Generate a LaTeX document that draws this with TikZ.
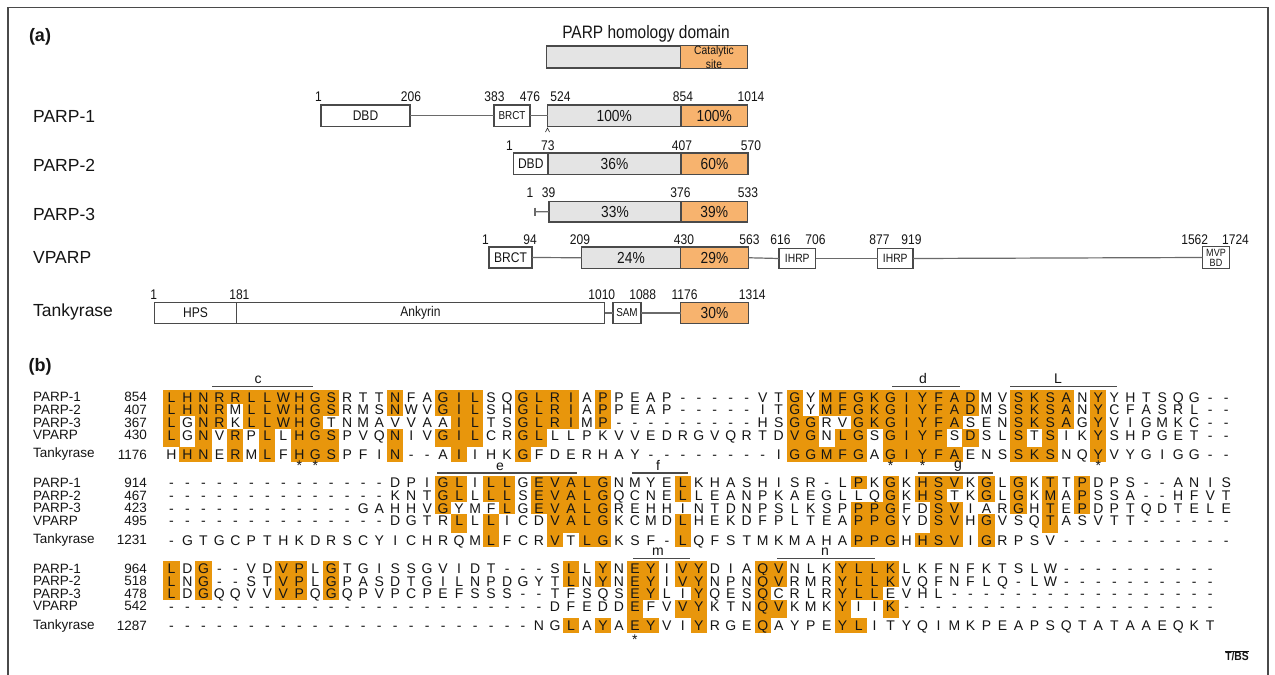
\documentclass[tikz,border=0pt]{standalone}
\usepackage{fontspec}
\setmainfont{Liberation Sans}
\newfontfamily\narrowsans[FakeStretch=0.86]{Liberation Sans}
\definecolor{hlorange}{HTML}{E8960C}
\definecolor{catorange}{HTML}{F7B36E}
\definecolor{domgrey}{HTML}{E4E4E4}
\definecolor{edgegrey}{HTML}{4A4A4A}
\definecolor{linkgrey}{HTML}{6A6A6A}
\definecolor{inkblack}{HTML}{151515}

\newcommand\pctfont{\narrowsans\fontsize{16}{16}\selectfont}
\newcommand\domfont{\narrowsans\fontsize{14}{14}\selectfont}

% ---------- alignment machinery ----------
% A residue in upper case is shaded, a lower-case one is plain.
\newcount\alncol
\def\alnx{171.5}
\def\alnw{15.98}
\newcommand\alnrow[4]{% #1 centre y, #2 cell top, #3 cell bottom, #4 residues
  \def\alny{#1}\def\alntop{#2}\def\alnbot{#3}%
  \alncol=0 \alnscan#4\relax}
\def\alnscan#1{%
  \ifx#1\relax\else
    \alncell#1%
    \advance\alncol by 1
    \expandafter\alnscan
  \fi}
\def\alncell#1{%
  \pgfmathsetmacro\cx{\alnx+\alnw*\the\alncol}%
  \ifnum`#1>64 \ifnum`#1<91
    \fill[hlorange] (\cx-8.05,\alntop) rectangle (\cx+8.05,\alnbot);
  \fi\fi
  \node[resid] at (\cx,\alny+5) {\uppercase{#1}};}

% one block of five sequences; #1 = y of first row
\newcommand\alnblock[6]{%
  \pgfmathsetmacro\ra{#1}%
  \pgfmathsetmacro\rb{#1+12.6}%
  \pgfmathsetmacro\rc{#1+25.2}%
  \pgfmathsetmacro\rd{#1+37.8}%
  \pgfmathsetmacro\re{#1+57.3}%
  \pgfmathsetmacro\ta{#1-7}%
  \pgfmathsetmacro\tb{#1+6.3}%
  \pgfmathsetmacro\tc{#1+18.9}%
  \pgfmathsetmacro\td{#1+31.5}%
  \pgfmathsetmacro\te{#1+50}%
  \pgfmathsetmacro\tf{#1+64.5}%
  \alnrow{\ra}{\ta}{\tb}{#2}%
  \alnrow{\rb}{\tb}{\tc}{#3}%
  \alnrow{\rc}{\tc}{\td}{#4}%
  \alnrow{\rd}{\td}{\te}{#5}%
  \alnrow{\re}{\te}{\tf}{#6}}

\newcommand\alnlabels[6]{% #1 y of first row, then the start numbers
  \node[rowname] at (33,#1) {PARP-1};
  \node[rownum]  at (147,#1) {#2};
  \node[rowname] at (33,#1+12.6) {PARP-2};
  \node[rownum]  at (147,#1+12.6) {#3};
  \node[rowname] at (33,#1+25.2) {PARP-3};
  \node[rownum]  at (147,#1+25.2) {#4};
  \node[rowname] at (33,#1+37.8) {VPARP};
  \node[rownum]  at (147,#1+37.8) {#5};
  \node[rowname] at (33,#1+57.3) {Tankyrase};
  \node[rownum]  at (147,#1+57.3) {#6};}

\tikzset{
  resid/.style={anchor=base, inner sep=0, text=inkblack,
    font=\fontsize{14}{14}\selectfont},
  rowname/.style={anchor=west, inner sep=0, text=inkblack,
    font=\fontsize{13.5}{13.5}\selectfont},
  rownum/.style={anchor=east, inner sep=0, text=inkblack,
    font=\fontsize{13.5}{13.5}\selectfont},
  motifbar/.style={draw=edgegrey, line width=1.2pt},
  motiflabel/.style={anchor=base, inner sep=0, text=inkblack,
    font=\fontsize{14}{14}\selectfont},
  starmark/.style={anchor=base, inner sep=0, text=inkblack,
    font=\fontsize{14}{14}\selectfont},
  dombx/.style={draw=edgegrey, line width=1.1pt, inner sep=0, outer sep=0,
    text=inkblack},
  domlink/.style={draw=linkgrey, line width=1.2pt},
  protein/.style={anchor=west, inner sep=0, text=inkblack,
    font=\fontsize{17.5}{17.5}\selectfont},
  posnum/.style={inner sep=0, text=inkblack, font=\narrowsans\fontsize{14}{14}\selectfont},
  panellabel/.style={inner sep=0, text=inkblack, font=\bfseries\fontsize{18}{18}\selectfont},
}

% box from (x1,y1) to (x2,y2), named #1
\newcommand\dombox[7]{% name, x1, y1, x2, y2, fill, text
  \node[dombx, fill=#6, minimum width={(#4-#2)*1pt}, minimum height={(#5-#3)*1pt}]
    (#1) at ({(#2+#4)/2},{(#3+#5)/2}) {#7};}

\begin{document}
\begin{tikzpicture}[x=1pt, y=-1pt]
\useasboundingbox (0,0) rectangle (1275,675);
\fill[white] (0,0) rectangle (1275,675);
% frame
\draw[edgegrey, line width=1.2pt] (8,675) -- (8,7.5) -- (1268,7.5) -- (1268,675);

% ================= panel (a) =================
\node[panellabel] (panela) at (40,37) {(a)};

% legend
\node[inner sep=0, text=inkblack, font=\narrowsans\fontsize{18}{18}\selectfont] (legendtitle) at (646,33.5) {PARP homology domain};
\dombox{leggrey}{546.5}{46}{680.5}{68}{domgrey}{}
\dombox{legcat}{680.5}{46}{747.5}{68}{catorange}{\narrowsans\fontsize{12}{10.5}\selectfont\shortstack{Catalytic\\site}}

% PARP-1
\node[protein] (nparp1) at (33,116) {PARP-1};
\dombox{dbdA}{321}{105}{410}{126.5}{white}{\domfont DBD}
\dombox{brctA}{494}{105}{530}{126.5}{white}{\narrowsans\fontsize{11.5}{11.5}\selectfont BRCT}
\dombox{homA}{547.5}{105}{681}{126.5}{domgrey}{\pctfont 100\%}
\dombox{catA}{681}{105}{747.5}{126.5}{catorange}{\pctfont 100\%}
\draw[domlink] (dbdA.east) -- (brctA.west);
\draw[domlink] (brctA.east) -- (homA.west);
\coordinate (caretA) at (547.5,128);
\draw[inkblack, line width=0.6pt] ([xshift=-2pt,yshift=-4pt]caretA) -- (caretA) -- ([xshift=2pt,yshift=-4pt]caretA);
\node[posnum] (a1) at (318.5,96.5) {1};
\node[posnum] (a2) at (411,96.5) {206};
\node[posnum] (a3) at (494.5,96.5) {383};
\node[posnum] (a4) at (530,96.5) {476};
\node[posnum] (a5) at (560.5,96.5) {524};
\node[posnum] (a6) at (683,96.5) {854};
\node[posnum] (a7) at (751,96.5) {1014};

% PARP-2
\node[protein] (nparp2) at (33,165.5) {PARP-2};
\dombox{dbdB}{513.5}{153}{548}{174.5}{white}{\domfont DBD}
\dombox{homB}{548}{153}{681}{174.5}{domgrey}{\pctfont 36\%}
\dombox{catB}{681}{153}{748}{174.5}{catorange}{\pctfont 60\%}
\node[posnum] (b1) at (509.5,146) {1};
\node[posnum] (b2) at (547.8,146) {73};
\node[posnum] (b3) at (682,146) {407};
\node[posnum] (b4) at (751,146) {570};

% PARP-3
\node[protein] (nparp3) at (33,214) {PARP-3};
\dombox{homC}{549}{201.5}{681}{222}{domgrey}{\pctfont 33\%}
\dombox{catC}{681}{201.5}{747.5}{222}{catorange}{\pctfont 39\%}
\coordinate (startC) at (535,211.7);
\draw[domlink] (startC) -- (homC.west);
\draw[domlink] ([yshift=4pt]startC) -- ([yshift=-4pt]startC);
\node[posnum] (c1) at (530,192.5) {1};
\node[posnum] (c2) at (548.5,192.5) {39};
\node[posnum] (c3) at (680.5,192.5) {376};
\node[posnum] (c4) at (748,192.5) {533};

% VPARP
\node[protein] (nvparp) at (33,257.5) {VPARP};
\dombox{brctD}{489}{247}{532}{268}{white}{\domfont BRCT}
\dombox{homD}{581.5}{247}{680.5}{268.5}{domgrey}{\pctfont 24\%}
\dombox{catD}{680.5}{247}{748.5}{268.5}{catorange}{\pctfont 29\%}
\dombox{ihrpD}{779}{248.5}{815.5}{268.5}{white}{\narrowsans\fontsize{12}{12}\selectfont IHRP}
\dombox{ihrpE}{877.5}{248.5}{913}{268.5}{white}{\narrowsans\fontsize{12}{12}\selectfont IHRP}
\dombox{mvpD}{1202.5}{246.5}{1229.5}{268.5}{white}{\narrowsans\fontsize{10.5}{9.5}\selectfont\shortstack{MVP\\BD}}
\draw[domlink] (brctD.east) -- (homD.west);
\draw[domlink] (catD.east) -- (ihrpD.west);
\draw[domlink] (ihrpD.east) -- (ihrpE.west);
\draw[domlink] (ihrpE.east) -- (mvpD.west);
\node[posnum] (d1) at (485.5,240) {1};
\node[posnum] (d2) at (530,240) {94};
\node[posnum] (d3) at (580,240) {209};
\node[posnum] (d4) at (684,240) {430};
\node[posnum] (d5) at (749.5,240) {563};
\node[posnum] (d6) at (780.5,240) {616};
\node[posnum] (d7) at (815.5,240) {706};
\node[posnum] (d8) at (879.5,240) {877};
\node[posnum] (d9) at (911.5,240) {919};
\node[posnum] (d10) at (1194.7,240) {1562};
\node[posnum] (d11) at (1235.5,240) {1724};

% Tankyrase
\node[protein] (ntank) at (33,311.5) {Tankyrase};
\dombox{hpsE}{154.5}{302.5}{236.5}{323.5}{white}{\domfont HPS}
\dombox{ankE}{236.5}{302.5}{604.5}{323.5}{white}{\domfont Ankyrin}
\dombox{samE}{613}{302.5}{641}{323.5}{white}{\narrowsans\fontsize{11.5}{11.5}\selectfont SAM}
\dombox{catE}{680.5}{302.5}{748.5}{323.5}{catorange}{\pctfont 30\%}
\draw[domlink] (ankE.east) -- (samE.west);
\draw[domlink] (samE.east) -- (catE.west);
\node[posnum] (e1) at (153.6,295) {1};
\node[posnum] (e2) at (239.4,295) {181};
\node[posnum] (e3) at (601.8,295) {1010};
\node[posnum] (e4) at (642.7,295) {1088};
\node[posnum] (e5) at (684.5,295) {1176};
\node[posnum] (e6) at (752.3,295) {1314};

% ================= panel (b) =================
\node[panellabel] (panelb) at (40,367) {(b)};

% block 1
\alnblock{397.2}%
 {LHNRRLLWHGSrttNfaGILsqGLRIaPpeap-----vtGyMFGKGIYFADmvSKSAnYyhtsqg--}%
 {LHNRmLLWHGSrmsNwvGILshGLRIaPpeap-----itGyMFGKGIYFADmsSKSAnYcfasrl--}%
 {LgNRkLLWHGtnmavvaaILtsGLRImP---------hsGGrvGKGIYFAsenSKSAgYvigmkc--}%
 {LgNvRpLlHGSpvqNivGILcrGLllpkvvedrgvqrtdVGnLGsGIYFsDslStSikYshpget--}%
 {hHNeRmLfHGSpfiN--aIihkGfderhay--------iGGMFGaGIYFAensSKSnqYvygigg--}
\alnlabels{397.2}{854}{407}{367}{430}{1176}

% block 2
\alnblock{482.8}%
 {--------------dpiGLiLLgEVALGnmyeLkhashisr-lPkGkHSVkGlGkTtPdps--anis}%
 {--------------kntGLlLLsEVALGqcneLleanpkaegllqGkHStkGlGkMaPssa--hfvt}%
 {------------gahhvGymfLgEVALGrehhintdnpslkspPPGfdSViarGhTePdptqdtele}%
 {--------------dgtrLlLicdVALGkcmdLhekdfplteaPPGydSVhGvsqTasvtt------}%
 {-gtgcpthkdrscyichrqmLfcrVtLGksf-LqfstmkmahaPPGhHSViGrpsv-----------}
\alnlabels{482.8}{914}{467}{423}{495}{1231}

% block 3
\alnblock{568.4}%
 {LdG--vdVPlGtgissgvidt---sLlYnEYiVYdiaQVnlkYLLKlkfnfktslw----------}%
 {LnG--stVPlGpasdtgilnpdgytLnYnEYiVYnpnQVrmrYLLKvqfnflq-lw----------}%
 {LdGqqvvVPqGqpvpcpefsss--tfsqsEYliYqesQcrlrYLLevhl-----------------}%
 {------------------------dfeddEfvVYktnQVkmkYiiK--------------------}%
 {-----------------------ngLaYaEYviYrgeQaypeYLityqimkpeapsqtataaeqkt}
\alnlabels{568.4}{964}{518}{478}{542}{1287}

% motif bars and their letters
\draw[motifbar] (212,386.5) -- (313,386.5);  \node[motiflabel] (mc) at (258,383) {c};
\draw[motifbar] (892,386.5) -- (960,386.5);  \node[motiflabel] (md) at (923,383) {d};
\draw[motifbar] (1010,386.5) -- (1117,386.5);\node[motiflabel] (mL) at (1058,383) {L};
\draw[motifbar] (437,473) -- (577,473);      \node[motiflabel] (me) at (500,470) {e};
\draw[motifbar] (632,473) -- (688,473);      \node[motiflabel] (mf) at (658,470) {f};
\draw[motifbar] (918,473) -- (993,473);      \node[motiflabel] (mg) at (958,468) {g};
\draw[motifbar] (633,558.5) -- (690,558.5);  \node[motiflabel] (mm) at (658,555.5) {m};
\draw[motifbar] (777,558.5) -- (875,558.5);  \node[motiflabel] (mn) at (825,555.5) {n};

% conserved positions
\foreach \c in {8,9,45,47,58}
  \node[starmark] at ({171.5+15.98*\c},470.5) {*};
\node[starmark] (starm) at ({171.5+15.98*29},644.5) {*};

% journal mark
\node[inner sep=0, text=inkblack, font=\bfseries\narrowsans\fontsize{12}{12}\selectfont] (tibs) at (1237,656) {T/BS};
\draw[inkblack, line width=1pt] (tibs.north west) -- (tibs.north east);
\end{tikzpicture}
\end{document}
